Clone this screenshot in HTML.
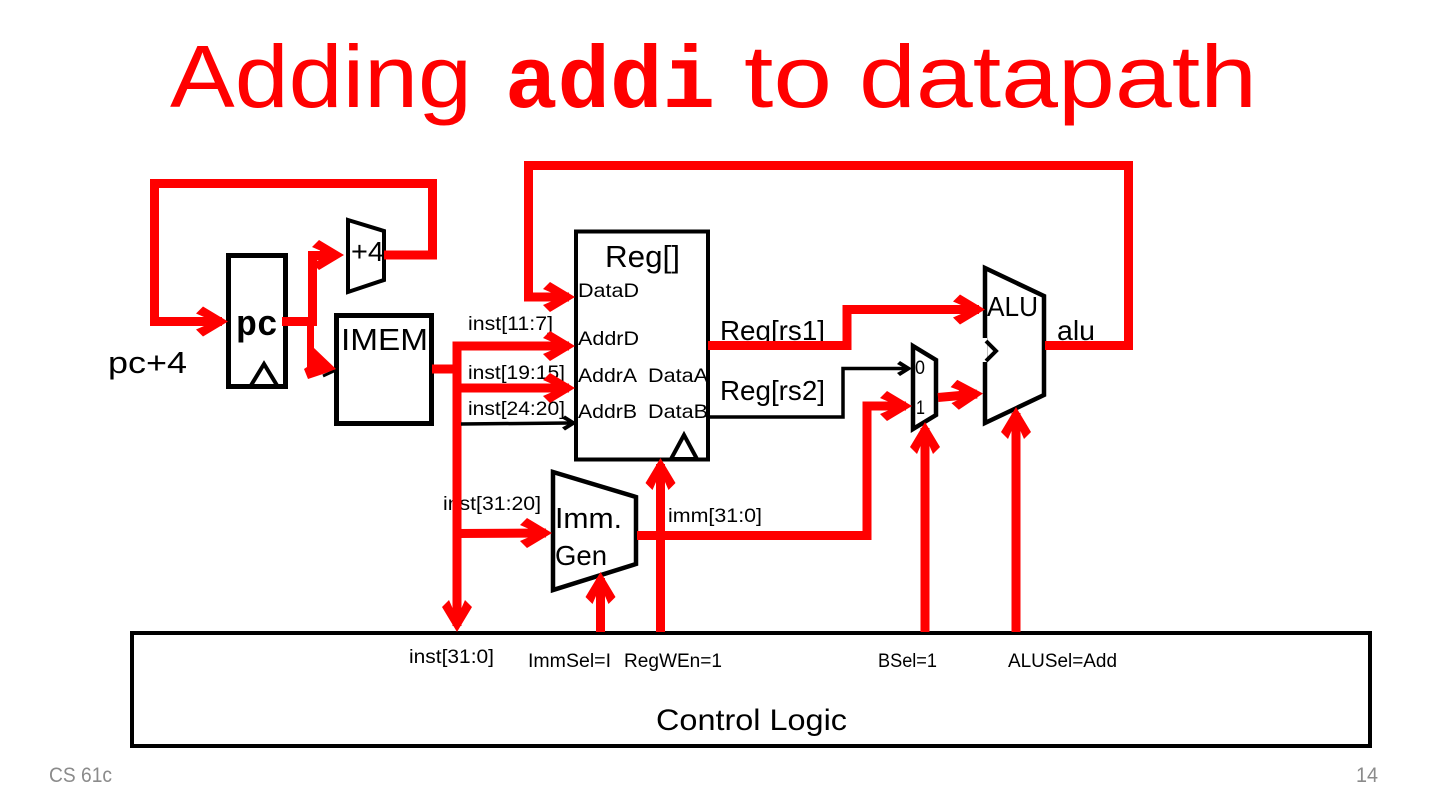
<!DOCTYPE html>
<html><head><meta charset="utf-8"><style>
html,body{margin:0;padding:0;background:#fff;width:1440px;height:811px;overflow:hidden}
svg{display:block}
text{font-family:"Liberation Sans",sans-serif;fill:#000}
.t{fill:#f00;font-size:88px}
.tb{font-family:"Liberation Mono",monospace;fill:#f00;font-size:88px;font-weight:bold}
.w{fill:none;stroke:#f00;stroke-width:9}
.b{fill:none;stroke:#000;stroke-width:5}
.c{fill:none;stroke:#000;stroke-width:4}
.s{font-size:19.500px}.l{font-size:28px}.x{font-size:31px}
.f{font-size:21px;fill:#8b8b8b}
</style></head><body>
<svg width="1440" height="811" viewBox="0 0 1440 811" xmlns="http://www.w3.org/2000/svg">
<defs>
<polygon id="a" points="0,0 -25,-15 -32,-8 -24,-4.500 -24,4.500 -32,8 -25,15" fill="#f00"/>
<polygon id="k" points="0,0 -12,-7.500 -15,-4.500 -10,-1.700 -10,1.700 -15,4.500 -12,7.500" fill="#000"/>
</defs>

<text x="170" y="107" class="t" textLength="302" lengthAdjust="spacingAndGlyphs">Adding</text>
<text x="505" y="107" class="tb" textLength="210" lengthAdjust="spacingAndGlyphs">addi</text>
<text x="744" y="107" class="t" textLength="88" lengthAdjust="spacingAndGlyphs">to</text>
<text x="859" y="107" class="t" textLength="398" lengthAdjust="spacingAndGlyphs">datapath</text>

<!-- boxes -->
<rect x="228.500" y="255.500" width="57" height="131" class="b"/>
<polygon points="264,364 250,387 278,387" class="c"/>
<polygon points="348,220 384,231 384,280 348,292" class="c"/>
<rect x="336.500" y="315.500" width="95" height="108" class="b"/>
<rect x="576" y="231.500" width="132" height="228" class="c"/>
<polygon points="684,435 671,459 697,459" class="c"/>
<polygon points="985,268 1044,296 1044,395 985,423" class="c" style="stroke-width:4.500px"/>
<rect x="981" y="338" width="6" height="24" fill="#fff"/>
<polyline points="986,341 996,351 986,361" class="c"/>
<polygon points="913,346 936,360 936,415 913,429" class="c" style="stroke-width:4.500px"/>
<polygon points="553,472 636,497 636,564 553,590" class="c" style="stroke-width:4.500px"/>
<rect x="132" y="633" width="1238" height="113" class="c"/>

<!-- labels -->
<text x="236" y="335" textLength="42" lengthAdjust="spacingAndGlyphs" style="font-family:'Liberation Mono',monospace;font-weight:bold;font-size:36px">pc</text>
<text x="108" y="373" class="x" textLength="79" lengthAdjust="spacingAndGlyphs">pc+4</text>
<text x="351" y="261" class="l" textLength="33" lengthAdjust="spacingAndGlyphs">+4</text>
<text x="341" y="350" class="x" textLength="87" lengthAdjust="spacingAndGlyphs">IMEM</text>
<text x="605" y="267" class="x" textLength="75" lengthAdjust="spacingAndGlyphs">Reg[]</text>
<text x="578" y="297" class="s" textLength="61" lengthAdjust="spacingAndGlyphs">DataD</text>
<text x="578" y="345" class="s" textLength="61" lengthAdjust="spacingAndGlyphs">AddrD</text>
<text x="578" y="382" class="s" textLength="59" lengthAdjust="spacingAndGlyphs">AddrA</text>
<text x="648" y="382" class="s" textLength="60" lengthAdjust="spacingAndGlyphs">DataA</text>
<text x="578" y="418" class="s" textLength="59" lengthAdjust="spacingAndGlyphs">AddrB</text>
<text x="648" y="418" class="s" textLength="60" lengthAdjust="spacingAndGlyphs">DataB</text>
<text x="468" y="330" class="s" textLength="85" lengthAdjust="spacingAndGlyphs">inst[11:7]</text>
<text x="468" y="379" class="s" textLength="97" lengthAdjust="spacingAndGlyphs">inst[19:15]</text>
<text x="468" y="415" class="s" textLength="97" lengthAdjust="spacingAndGlyphs">inst[24:20]</text>
<text x="443" y="510" class="s" textLength="98" lengthAdjust="spacingAndGlyphs">inst[31:20]</text>
<text x="668" y="522" class="s" textLength="94" lengthAdjust="spacingAndGlyphs">imm[31:0]</text>
<text x="555" y="528" style="font-size:29px" textLength="67" lengthAdjust="spacingAndGlyphs">Imm.</text>
<text x="555" y="565" style="font-size:28px" textLength="52" lengthAdjust="spacingAndGlyphs">Gen</text>
<text x="720" y="340" class="l" textLength="105" lengthAdjust="spacingAndGlyphs">Reg[rs1]</text>
<text x="720" y="400" class="l" textLength="105" lengthAdjust="spacingAndGlyphs">Reg[rs2]</text>
<text x="987" y="316" class="l" textLength="51" lengthAdjust="spacingAndGlyphs">ALU</text>
<text x="1057" y="340" class="l" textLength="38" lengthAdjust="spacingAndGlyphs">alu</text>
<text x="915" y="374" class="s" textLength="10" lengthAdjust="spacingAndGlyphs">0</text>
<text x="916" y="414" class="s" textLength="9" lengthAdjust="spacingAndGlyphs">1</text>
<text x="409" y="663" class="s" textLength="85" lengthAdjust="spacingAndGlyphs">inst[31:0]</text>
<text x="528" y="667" class="s" textLength="83" lengthAdjust="spacingAndGlyphs">ImmSel=I</text>
<text x="624" y="667" class="s" textLength="98" lengthAdjust="spacingAndGlyphs">RegWEn=1</text>
<text x="878" y="667" class="s" textLength="59" lengthAdjust="spacingAndGlyphs">BSel=1</text>
<text x="1008" y="667" class="s" textLength="109" lengthAdjust="spacingAndGlyphs">ALUSel=Add</text>
<text x="656" y="730" style="font-size:30px" textLength="191" lengthAdjust="spacingAndGlyphs">Control Logic</text>
<text x="49" y="782" class="f" textLength="63" lengthAdjust="spacingAndGlyphs">CS 61c</text>
<text x="1356" y="782" class="f" textLength="22" lengthAdjust="spacingAndGlyphs">14</text>

<!-- red wires -->
<polyline class="w" points="384,255 432.500,255 432.500,183.500 154.500,183.500 154.500,321.500 222,321.500"/>
<use href="#a" x="228" y="321.500"/>
<polyline class="w" points="282,321.500 312.500,321.500 312.500,255.500 336,255.500"/>
<use href="#a" x="344" y="255"/>
<polyline points="323,376 336,370" fill="none" stroke="#000" stroke-width="3"/>
<polygon points="307,322 314,322 314,348 336,369 323,374 308,379 304,369 307,367" fill="#f00"/>
<polyline class="w" points="432,369 457,369"/>
<polyline class="w" points="457,626 457,346 569,346"/>
<use href="#a" x="575" y="346"/>
<polyline class="w" points="457,388 569,388"/>
<use href="#a" x="575" y="388"/>
<polyline points="461,424 570,423" fill="none" stroke="#000" stroke-width="3.500"/>
<use href="#k" x="577" y="423"/>
<use href="#a" transform="translate(457 632) rotate(90)"/>
<polyline class="w" points="457,533.500 546,533"/>
<use href="#a" x="552" y="533"/>
<polyline class="w" points="637,535.500 867,535.500 867,406 906,406"/>
<use href="#a" x="912" y="406"/>
<polyline class="w" points="660.500,632 660.500,464"/>
<use href="#a" transform="translate(660.500 458) rotate(-90)"/>
<polyline class="w" points="600.500,632 600.500,578"/>
<use href="#a" transform="translate(600.500 572) rotate(-90)"/>
<polyline class="w" points="925,632 925,428"/>
<use href="#a" transform="translate(925 422) rotate(-90)"/>
<polyline class="w" points="1016,632 1016,413"/>
<use href="#a" transform="translate(1016 407) rotate(-90)"/>
<polyline class="w" points="708,345.500 847,345.500 847,309.500 979,309.500"/>
<use href="#a" x="985" y="309.500"/>
<polyline points="710,417 843,417 843,368.500 904,368.500" fill="none" stroke="#000" stroke-width="3.500"/>
<use href="#k" x="912" y="368.500"/>
<polyline class="w" points="938,397.500 977,394"/>
<use href="#a" transform="translate(983 393.500) rotate(-3)"/>
<polyline class="w" points="1045,345.500 1128.500,345.500 1128.500,165.500 528.500,165.500 528.500,297 569,297"/>
<use href="#a" x="575" y="297"/>
</svg>
</body></html>
